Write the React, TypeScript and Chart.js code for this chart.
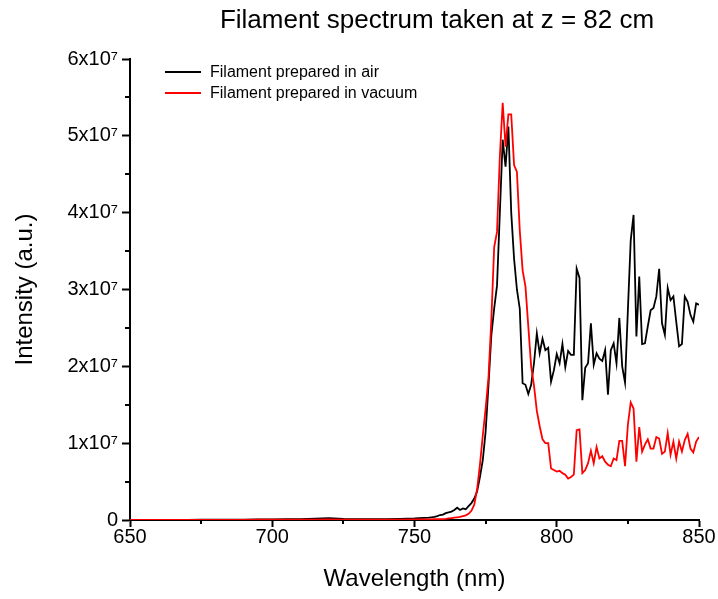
import React, { useEffect, useRef } from "react";
import { Chart, registerables } from "chart.js";

Chart.register(...registerables);

const TITLE = "Filament spectrum taken at z = 82 cm";
const X_TITLE = "Wavelength (nm)";
const Y_TITLE = "Intensity (a.u.)";
const LABEL_AIR = "Filament prepared in air";
const LABEL_VAC = "Filament prepared in vacuum";

// wavelengths (nm)
const wavelengths = [
  650, 655, 660, 665, 670, 675, 680, 685, 690, 695, 700, 705, 710, 715, 720, 725, 730, 735, 740, 745, 750, 755,
  756, 757, 758, 759, 760, 761, 762, 763, 764, 765, 766, 767, 768, 769, 770, 771, 772, 773, 774, 775, 776, 777, 778, 779,
  780, 781, 782, 783, 784, 785, 786, 787, 788, 789, 790, 791, 792, 793, 794, 795, 796, 797, 798, 799,
  800, 801, 802, 803, 804, 805, 806, 807, 808, 809, 810, 811, 812, 813, 814, 815, 816, 817, 818, 819,
  820, 821, 822, 823, 824, 825, 826, 827, 828, 829, 830, 831, 832, 833, 834, 835, 836, 837, 838, 839,
  840, 841, 842, 843, 844, 845, 846, 847, 848, 849, 850,
];

// intensities in units of 1e7
const airValues = [
  0, 0, 0, 0, 0, 0.003, 0.003, 0.005, 0.005, 0.008, 0.008, 0.01, 0.012, 0.018, 0.025, 0.015, 0.01, 0.01, 0.012, 0.015, 0.02, 0.03,
  0.035, 0.04, 0.05, 0.065, 0.07, 0.09, 0.1, 0.11, 0.13, 0.16, 0.13, 0.15, 0.14, 0.18, 0.22, 0.28, 0.37, 0.56, 0.78, 1.15, 1.75, 2.4, 2.75, 3.05,
  4.0, 4.95, 4.6, 5.12, 4.0, 3.4, 3.0, 2.75, 1.78, 1.76, 1.64, 1.76, 2.04, 2.43, 2.17, 2.36, 2.21, 2.24, 1.8, 1.95,
  2.16, 2.04, 2.29, 1.99, 2.2, 2.15, 2.15, 3.27, 3.15, 1.56, 1.98, 2.04, 2.56, 2.02, 2.17, 2.1, 2.07, 2.21, 1.63, 2.21,
  2.3, 2.04, 2.63, 2.0, 1.79, 2.73, 3.64, 3.97, 2.39, 3.17, 2.29, 2.3, 2.52, 2.73, 2.76, 2.91, 3.27, 2.56, 2.41, 3.02,
  2.86, 2.91, 2.58, 2.26, 2.29, 2.91, 2.84, 2.67, 2.58, 2.82, 2.8,
];

const vacuumValues = [
  0, 0, 0, 0, 0, 0, 0, 0.002, 0.002, 0.003, 0.003, 0.004, 0.005, 0.006, 0.008, 0.006, 0.005, 0.005, 0.005, 0.006, 0.008, 0.008,
  0.008, 0.01, 0.01, 0.012, 0.012, 0.015, 0.02, 0.025, 0.03, 0.035, 0.04, 0.05, 0.06, 0.08, 0.12, 0.2, 0.4, 0.72, 1.1, 1.45, 1.85, 2.6, 3.55, 3.75,
  4.73, 5.43, 4.86, 5.28, 5.28, 4.62, 4.53, 3.77, 3.25, 3.04, 2.52, 2.0, 1.75, 1.42, 1.22, 1.05, 1.0, 1.0, 0.67, 0.65,
  0.63, 0.64, 0.61, 0.59, 0.54, 0.56, 0.59, 1.17, 1.18, 0.61, 0.65, 0.74, 0.9, 0.74, 0.95, 0.8, 0.83, 0.76, 0.72, 0.7,
  0.8, 0.78, 1.03, 1.03, 0.7, 1.24, 1.53, 1.45, 0.76, 1.21, 0.89, 0.98, 1.05, 0.93, 0.93, 1.08, 1.06, 0.86, 0.89, 1.13,
  0.85, 1.02, 0.8, 1.02, 0.89, 1.04, 1.12, 0.93, 0.88, 1.02, 1.08,
];

const xMajorTicks = [650, 700, 750, 800, 850];
const xMinorTicks = [675, 725, 775, 825];
const yMajorTicks = [0, 1, 2, 3, 4, 5, 6];
const yMinorTicks = [0.5, 1.5, 2.5, 3.5, 4.5, 5.5];

const FONT = "'Liberation Sans', Arial, sans-serif";

const decorPlugin = {
  id: "decor",
  afterDraw(chart: any) {
    const ctx = chart.ctx;
    const xs = chart.scales.x;
    const ys = chart.scales.y;
    const area = chart.chartArea;
    ctx.save();
    // minor ticks
    ctx.strokeStyle = "#000";
    ctx.lineWidth = 2;
    ctx.beginPath();
    for (const v of xMinorTicks) {
      const px = Math.round(xs.getPixelForValue(v));
      ctx.moveTo(px, area.bottom);
      ctx.lineTo(px, area.bottom + 4);
    }
    for (const v of yMinorTicks) {
      const py = Math.round(ys.getPixelForValue(v));
      ctx.moveTo(area.left, py);
      ctx.lineTo(area.left - 5, py);
    }
    ctx.stroke();

    // title
    ctx.fillStyle = "#000";
    ctx.font = `26px ${FONT}`;
    ctx.textAlign = "center";
    ctx.textBaseline = "middle";
    ctx.fillText(TITLE, 437, 21);

    // legend
    const items = chart.data.datasets.map((d: any) => ({ label: d.label, color: d.borderColor }));
    const rowY = [72, 93];
    ctx.font = `16px ${FONT}`;
    ctx.textAlign = "left";
    items.forEach((it: any, i: number) => {
      const y = rowY[i];
      ctx.strokeStyle = it.color;
      ctx.lineWidth = 2;
      ctx.beginPath();
      ctx.moveTo(165, y);
      ctx.lineTo(201, y);
      ctx.stroke();
      ctx.fillStyle = "#000";
      ctx.fillText(it.label, 210, y + 1);
    });
    ctx.restore();
  },
};

export default function App() {
  const ref = useRef<HTMLCanvasElement | null>(null);
  useEffect(() => {
    if (!ref.current) return;
    const chart = new Chart(ref.current, {
      type: "line",
      data: {
        labels: wavelengths,
        datasets: [
          {
            label: LABEL_AIR,
            data: wavelengths.map((w, i) => ({ x: w, y: airValues[i] })),
            borderColor: "#000000",
            borderWidth: 1.8,
            pointRadius: 0,
            tension: 0,
            order: 1,
          },
          {
            label: LABEL_VAC,
            data: wavelengths.map((w, i) => ({ x: w, y: vacuumValues[i] })),
            borderColor: "#ff0000",
            borderWidth: 1.8,
            pointRadius: 0,
            tension: 0,
            order: 0,
          },
        ],
      },
      options: {
        animation: false,
        responsive: false,
        layout: { padding: { top: 59, right: 19, left: 0, bottom: 0 } },
        plugins: {
          legend: { display: false },
          title: { display: false },
          tooltip: { enabled: false },
        },
        scales: {
          x: {
            type: "linear",
            min: 650,
            max: 850,
            afterBuildTicks: (s: any) => {
              s.ticks = xMajorTicks.map((v) => ({ value: v }));
            },
            afterFit: (s: any) => {
              s.height = 79;
            },
            ticks: {
              color: "#000",
              font: { family: FONT, size: 20 },
              padding: -2,
              maxRotation: 0,
              callback: (v: any) => String(v),
            },
            grid: {
              display: true,
              drawOnChartArea: false,
              drawTicks: true,
              tickLength: 7,
              tickWidth: 2,
              tickColor: "#000",
            },
            border: { display: true, color: "#000", width: 2 },
            title: {
              display: true,
              text: X_TITLE,
              color: "#000",
              font: { family: FONT, size: 24 },
              padding: { top: 0, bottom: 5 },
            },
          },
          y: {
            type: "linear",
            min: 0,
            max: 6,
            afterBuildTicks: (s: any) => {
              s.ticks = yMajorTicks.map((v) => ({ value: v }));
            },
            afterFit: (s: any) => {
              s.width = 130;
            },
            ticks: {
              color: "#000",
              font: { family: FONT, size: 20 },
              padding: 4,
              callback: (v: any) => (v === 0 ? "0" : `${v}x10\u2077`),
            },
            grid: {
              display: true,
              drawOnChartArea: false,
              drawTicks: true,
              tickLength: 8,
              tickWidth: 2,
              tickColor: "#000",
            },
            border: { display: true, color: "#000", width: 2 },
            title: {
              display: true,
              text: Y_TITLE,
              color: "#000",
              font: { family: FONT, size: 24 },
              padding: { top: 11, bottom: 0 },
            },
          },
        },
      },
      plugins: [decorPlugin],
    });
    return () => chart.destroy();
  }, []);
  return (
    <div style={{ position: "fixed", left: 0, top: 0, width: 718, height: 599, background: "#fff" }}>
      <canvas ref={ref} width={718} height={599} style={{ width: 718, height: 599 }} />
    </div>
  );
}
